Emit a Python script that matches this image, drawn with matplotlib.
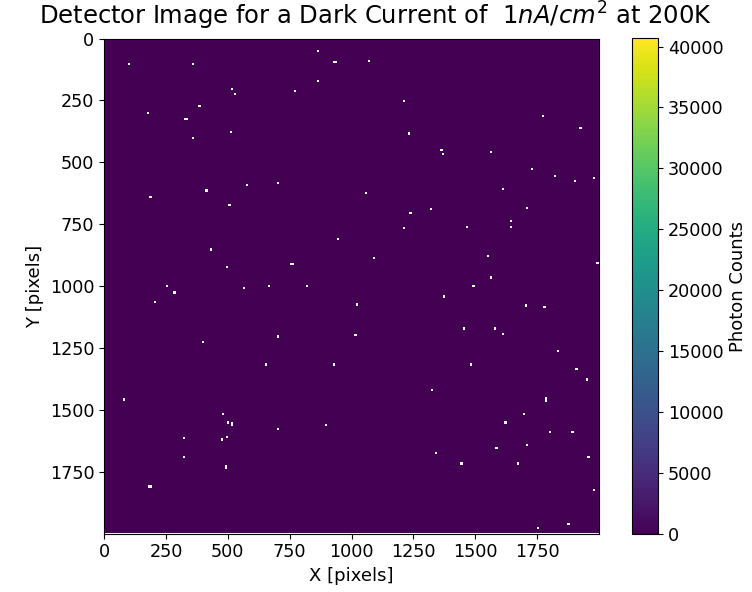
import numpy as np
import matplotlib
matplotlib.use("Agg")
import matplotlib.pyplot as plt

# detector geometry and colour scale
n_pix = 2000
background_counts = 0
peak_counts = 40700

# hot / dead pixels (detector x, y in pixels), drawn as NaN (white)
hot_x = [101, 360, 518, 529, 772, 385, 176, 331, 513, 360, 577, 702, 414, 187, 507, 432, 496, 759,
         864, 932, 1070, 864, 1211, 1232, 1363, 1368, 1562, 1612, 1059, 1238, 1320, 1211, 1465, 946,
         1091, 1551, 1562, 1773, 1925, 1730, 1821, 1904, 1979, 1708, 1644, 1644, 1993,
         253, 284, 205, 566, 665, 821, 702, 398, 653, 80, 480, 502, 518, 702, 323, 496, 475, 323,
         491, 184, 1492, 1373, 1021, 1454, 1579, 1612, 1016, 928, 1481, 1324, 897, 1622, 1585,
         1340, 1444, 1703, 1779, 1834, 1909, 1952, 1785, 1785, 1698, 1800, 1892, 1708, 1957, 1671,
         1979, 1876, 1752]
hot_y = [106, 106, 205, 226, 215, 274, 301, 328, 378, 405, 594, 584, 616, 643, 675, 854, 924, 913,
         52, 97, 92, 172, 253, 385, 453, 469, 459, 611, 627, 708, 691, 767, 762, 811,
         887, 881, 967, 314, 362, 529, 556, 577, 566, 686, 740, 762, 908,
         1000, 1028, 1066, 1010, 1000, 1000, 1206, 1227, 1319, 1460, 1519, 1553, 1559, 1579, 1617,
         1612, 1622, 1692, 1733, 1812, 1000, 1044, 1076, 1173, 1173, 1195, 1200, 1319, 1319, 1422,
         1562, 1553, 1655, 1676, 1719, 1080, 1086, 1264, 1336, 1379, 1456, 1465, 1519, 1590, 1590,
         1644, 1692, 1719, 1827, 1963, 1979]
# streaks that cover more than one block
wide_hits = [(385, 274), (331, 328), (759, 913), (932, 97), (184, 1812)]
tall_hits = [(1232, 385), (518, 1559), (491, 1733)]

image = np.full((n_pix, n_pix), float(background_counts))
for x, y in zip(hot_x, hot_y):
    w, h = 4, 4
    if (x, y) in wide_hits:
        w = 7
    if (x, y) in tall_hits:
        h = 7
    image[max(y - h, 0):y + h + 1, max(x - w, 0):x + w + 1] = np.nan

fig = plt.figure(figsize=(7.52, 5.92), dpi=100)
ax = fig.add_axes([104 / 752, 58 / 592, 495 / 752, 496 / 592])
cax = fig.add_axes([632 / 752, 58 / 592, 26 / 752, 496 / 592])

im = ax.imshow(image, cmap='viridis', vmin=0, vmax=peak_counts, interpolation='nearest')
ax.set_xlabel('X [pixels]', fontsize=13)
ax.set_ylabel('Y [pixels]', fontsize=13)
ax.tick_params(labelsize=12.7)
fig.text(0.5, 1 - 24.5 / 592, r'Detector Image for a Dark Current of  $1nA/cm^2$ at 200K',
         fontsize=17.5, ha='center', va='baseline')

cb = fig.colorbar(im, cax=cax)
cb.set_label('Photon Counts', fontsize=13)
cb.ax.tick_params(labelsize=12.7)

plt.savefig('out.png', dpi=100)
